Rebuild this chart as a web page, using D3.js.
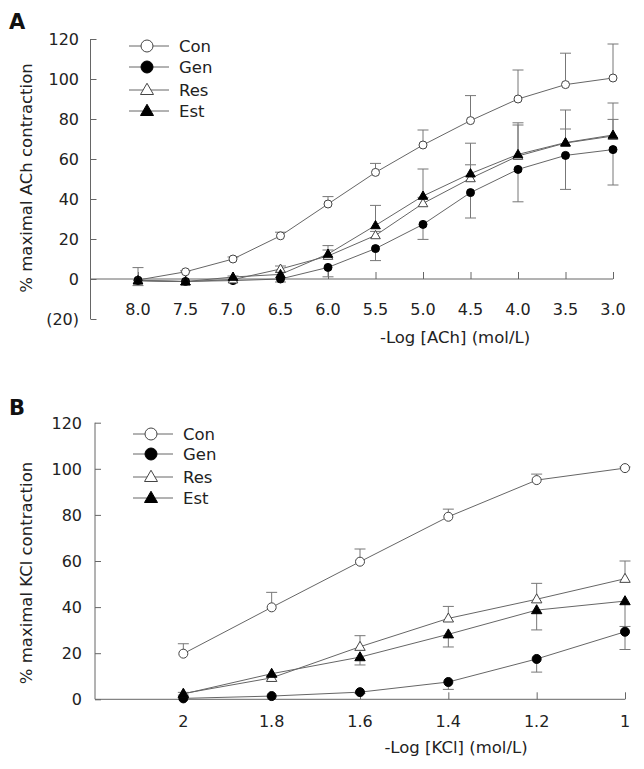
<!DOCTYPE html>
<html>
<head>
<meta charset="utf-8">
<script src="https://cdn.jsdelivr.net/npm/d3@7"></script>
<style>
    body { margin: 0; background: #fff; }
    svg { display: block; font-family: 'DejaVu Sans', Verdana, sans-serif; }
</style>
</head>
<body>
<svg id="chart" width="644" height="769"></svg>
<script>
'use strict';

// panel A: -Log [ACh]
const achLabels = ['8.0', '7.5', '7.0', '6.5', '6.0', '5.5', '5.0', '4.5', '4.0', '3.5', '3.0'];
const achCon = [-0.5, 3.6, 10, 21.6, 37.5, 53.3, 67, 79.2, 90, 97.2, 100.5];
const achConErr = [0, 0.5, 1, 1.8, 3.7, 4.5, 7.5, 12.5, 14.5, 15.7, 17];
const achGen = [-0.8, -1.2, -0.8, 0, 5.8, 15.2, 27.3, 43.2, 54.8, 61.8, 64.7];
const achGenErr = [2.5, 0, 0, 1.5, 4.7, 6, 7.5, 12.7, 16.2, 17, 17.7];
const achRes = [-0.8, -1.3, -0.3, 5, 11.5, 21.8, 37.8, 50.3, 61.5, 68, 71.5];
const achResErr = [0, 0, 0, 1.5, 3, 2, 3, 6.8, 15.5, 7, 8.3];
const achEst = [-0.8, -1.3, 1, 2.3, 12.5, 26.8, 41.5, 52.7, 62.3, 68.2, 72];
const achEstErr = [6.5, 0, 0.5, 1, 4.2, 10, 13.5, 15.2, 15.8, 16.3, 16];
const achTicks = [-20, 0, 20, 40, 60, 80, 100, 120];

// panel B: -Log [KCl]
const kclLabels = ['2', '1.8', '1.6', '1.4', '1.2', '1'];
const kclCon = [19.8, 39.9, 59.7, 79.2, 95.1, 100.3];
const kclConErr = [4.3, 6.5, 5.5, 3.3, 2.6, 0.5];
const kclGen = [0.4, 1.4, 3.1, 7.5, 17.5, 29.3];
const kclGenErr = [0, 0, 0.5, 3.2, 5.7, 7.7];
const kclRes = [2.5, 9.3, 22.8, 35.1, 43.4, 52.3];
const kclResErr = [0.5, 1, 4.8, 5.2, 6.9, 7.7];
const kclEst = [2.3, 11.1, 18.3, 28.2, 38.7, 42.6];
const kclEstErr = [0.5, 1, 3.4, 5.5, 8.6, 11];
const kclTicks = [0, 20, 40, 60, 80, 100, 120];

const groupNames = ['Con', 'Gen', 'Res', 'Est'];

const svg = d3.select('#chart');
const axisColor = '#666';
const lineColor = '#666';
const errColor = '#777';
const textColor = '#222';

function drawMarker(g, shape, x, y, size) {
    if (shape === 'circle-open' || shape === 'circle-fill') {
        g.append('circle')
            .attr('cx', x)
            .attr('cy', y)
            .attr('r', size)
            .attr('fill', shape === 'circle-fill' ? '#000' : '#fff')
            .attr('stroke', shape === 'circle-fill' ? '#000' : '#444')
            .attr('stroke-width', 1);
    } else {
        // triangle, size = half width
        const h = size * Math.sqrt(3);
        const pts = [[x, y - h * 0.6], [x + size, y + h * 0.4], [x - size, y + h * 0.4]];
        g.append('path')
            .attr('d', d3.line()(pts) + 'Z')
            .attr('fill', shape === 'tri-fill' ? '#000' : '#fff')
            .attr('stroke', shape === 'tri-fill' ? '#000' : '#444')
            .attr('stroke-width', 1);
    }
}

function drawPanel(cfg) {
    const g = svg.append('g');
    const x = d3.scaleLinear().domain([0, cfg.labels.length]).range([cfg.left, cfg.right]);
    const y = d3.scaleLinear().domain(cfg.yDomain).range([cfg.bottom, cfg.top]);

    // y axis with inward ticks
    const yAxis = g.append('g')
        .attr('transform', 'translate(' + cfg.left + ',0)')
        .call(d3.axisRight(y).tickValues(cfg.yTicks).tickSize(6).tickFormat(''));
    yAxis.select('.domain').attr('stroke', axisColor).attr('d', 'M0,' + y(cfg.yDomain[0]) + 'V' + y(cfg.yDomain[1]));
    yAxis.selectAll('.tick line').attr('stroke', axisColor);

    g.selectAll('.ylab')
        .data(cfg.yTicks)
        .enter()
        .append('text')
        .attr('x', cfg.yLabelX)
        .attr('y', d => y(d) + 6)
        .attr('text-anchor', 'end')
        .attr('font-size', 16)
        .attr('fill', textColor)
        .text(d => d < 0 ? '(' + (-d) + ')' : d);

    // x axis on the zero line, ticks pointing up
    const cats = cfg.labels.map((d, i) => i + 1);
    const xAxis = g.append('g')
        .attr('transform', 'translate(0,' + y(0) + ')')
        .call(d3.axisTop(x).tickValues(cats).tickSize(7).tickFormat(''));
    xAxis.select('.domain').attr('stroke', axisColor).attr('d', 'M' + cfg.left + ',0H' + cfg.right);
    xAxis.selectAll('.tick line').attr('stroke', axisColor);

    g.selectAll('.xlab')
        .data(cfg.labels)
        .enter()
        .append('text')
        .attr('x', (d, i) => x(i + 1))
        .attr('y', cfg.xLabelY)
        .attr('text-anchor', 'middle')
        .attr('font-size', 16)
        .attr('fill', textColor)
        .text(d => d);

    g.append('text')
        .attr('x', cfg.xTitleX)
        .attr('y', cfg.xTitleY)
        .attr('text-anchor', 'middle')
        .attr('font-size', 16.5)
        .attr('fill', textColor)
        .text(cfg.xTitle);

    g.append('text')
        .attr('transform', 'translate(' + cfg.yTitleX + ',' + cfg.yTitleY + ') rotate(-90)')
        .attr('text-anchor', 'middle')
        .attr('font-size', 16.5)
        .attr('fill', textColor)
        .text(cfg.yTitle);

    g.append('text')
        .attr('x', 9)
        .attr('y', cfg.letterY)
        .attr('font-size', 21)
        .attr('font-weight', 'bold')
        .attr('fill', '#111')
        .text(cfg.letter);

    // error bars first, then lines, then markers
    cfg.series.forEach((s) => {
        s.values.forEach((v, i) => {
            const e = s.err[i];
            if (!e) return;
            const end = v + s.dir * e;
            const cx = x(i + 1);
            g.append('line')
                .attr('x1', cx).attr('x2', cx)
                .attr('y1', y(v)).attr('y2', y(end))
                .attr('stroke', errColor).attr('stroke-width', 1);
            g.append('line')
                .attr('x1', cx - 5.5).attr('x2', cx + 5.5)
                .attr('y1', y(end)).attr('y2', y(end))
                .attr('stroke', errColor).attr('stroke-width', 1);
        });
    });

    const line = d3.line()
        .x((d, i) => x(i + 1))
        .y(d => y(d));

    cfg.series.forEach((s) => {
        g.append('path')
            .datum(s.values)
            .attr('d', line)
            .attr('fill', 'none')
            .attr('stroke', lineColor)
            .attr('stroke-width', 1);
    });

    cfg.series.forEach((s) => {
        s.values.forEach((v, i) => {
            drawMarker(g, s.shape, x(i + 1), y(v), s.shape.indexOf('tri') === 0 ? cfg.triSize : cfg.dotSize);
        });
    });

    // legend
    cfg.series.forEach((s, i) => {
        const ly = cfg.legendYs[i];
        g.append('line')
            .attr('x1', cfg.legendX).attr('x2', cfg.legendX + 40)
            .attr('y1', ly).attr('y2', ly)
            .attr('stroke', lineColor).attr('stroke-width', 1);
        drawMarker(g, s.shape, cfg.legendX + 18, ly, s.shape.indexOf('tri') === 0 ? 6.5 : 6);
        g.append('text')
            .attr('x', cfg.legendX + 50)
            .attr('y', ly + 6)
            .attr('font-size', 16.5)
            .attr('fill', textColor)
            .text(groupNames[i]);
    });
}

drawPanel({
    letter: 'A', letterY: 29,
    labels: achLabels,
    left: 90.5, right: 613, top: 39, bottom: 319,
    yDomain: [-20, 120], yTicks: achTicks, yLabelX: 79,
    xLabelY: 315, xTitle: '-Log [ACh] (mol/L)', xTitleX: 455, xTitleY: 343,
    yTitle: '% maximal ACh contraction', yTitleX: 32, yTitleY: 178,
    dotSize: 4, triSize: 4.8,
    legendX: 129, legendYs: [46, 67, 90, 111],
    series: [
        { values: achCon, err: achConErr, dir: 1, shape: 'circle-open' },
        { values: achGen, err: achGenErr, dir: -1, shape: 'circle-fill' },
        { values: achRes, err: achResErr, dir: 1, shape: 'tri-open' },
        { values: achEst, err: achEstErr, dir: 1, shape: 'tri-fill' }
    ]
});

drawPanel({
    letter: 'B', letterY: 415,
    labels: kclLabels,
    left: 95, right: 625, top: 422.7, bottom: 699.3,
    yDomain: [0, 120], yTicks: kclTicks, yLabelX: 82,
    xLabelY: 727, xTitle: '-Log [KCl] (mol/L)', xTitleX: 456, xTitleY: 753,
    yTitle: '% maximal KCl contraction', yTitleX: 32, yTitleY: 573,
    dotSize: 4.5, triSize: 5.2,
    legendX: 133, legendYs: [434, 454, 477, 498],
    series: [
        { values: kclCon, err: kclConErr, dir: 1, shape: 'circle-open' },
        { values: kclGen, err: kclGenErr, dir: -1, shape: 'circle-fill' },
        { values: kclRes, err: kclResErr, dir: 1, shape: 'tri-open' },
        { values: kclEst, err: kclEstErr, dir: -1, shape: 'tri-fill' }
    ]
});
</script>
</body>
</html>
